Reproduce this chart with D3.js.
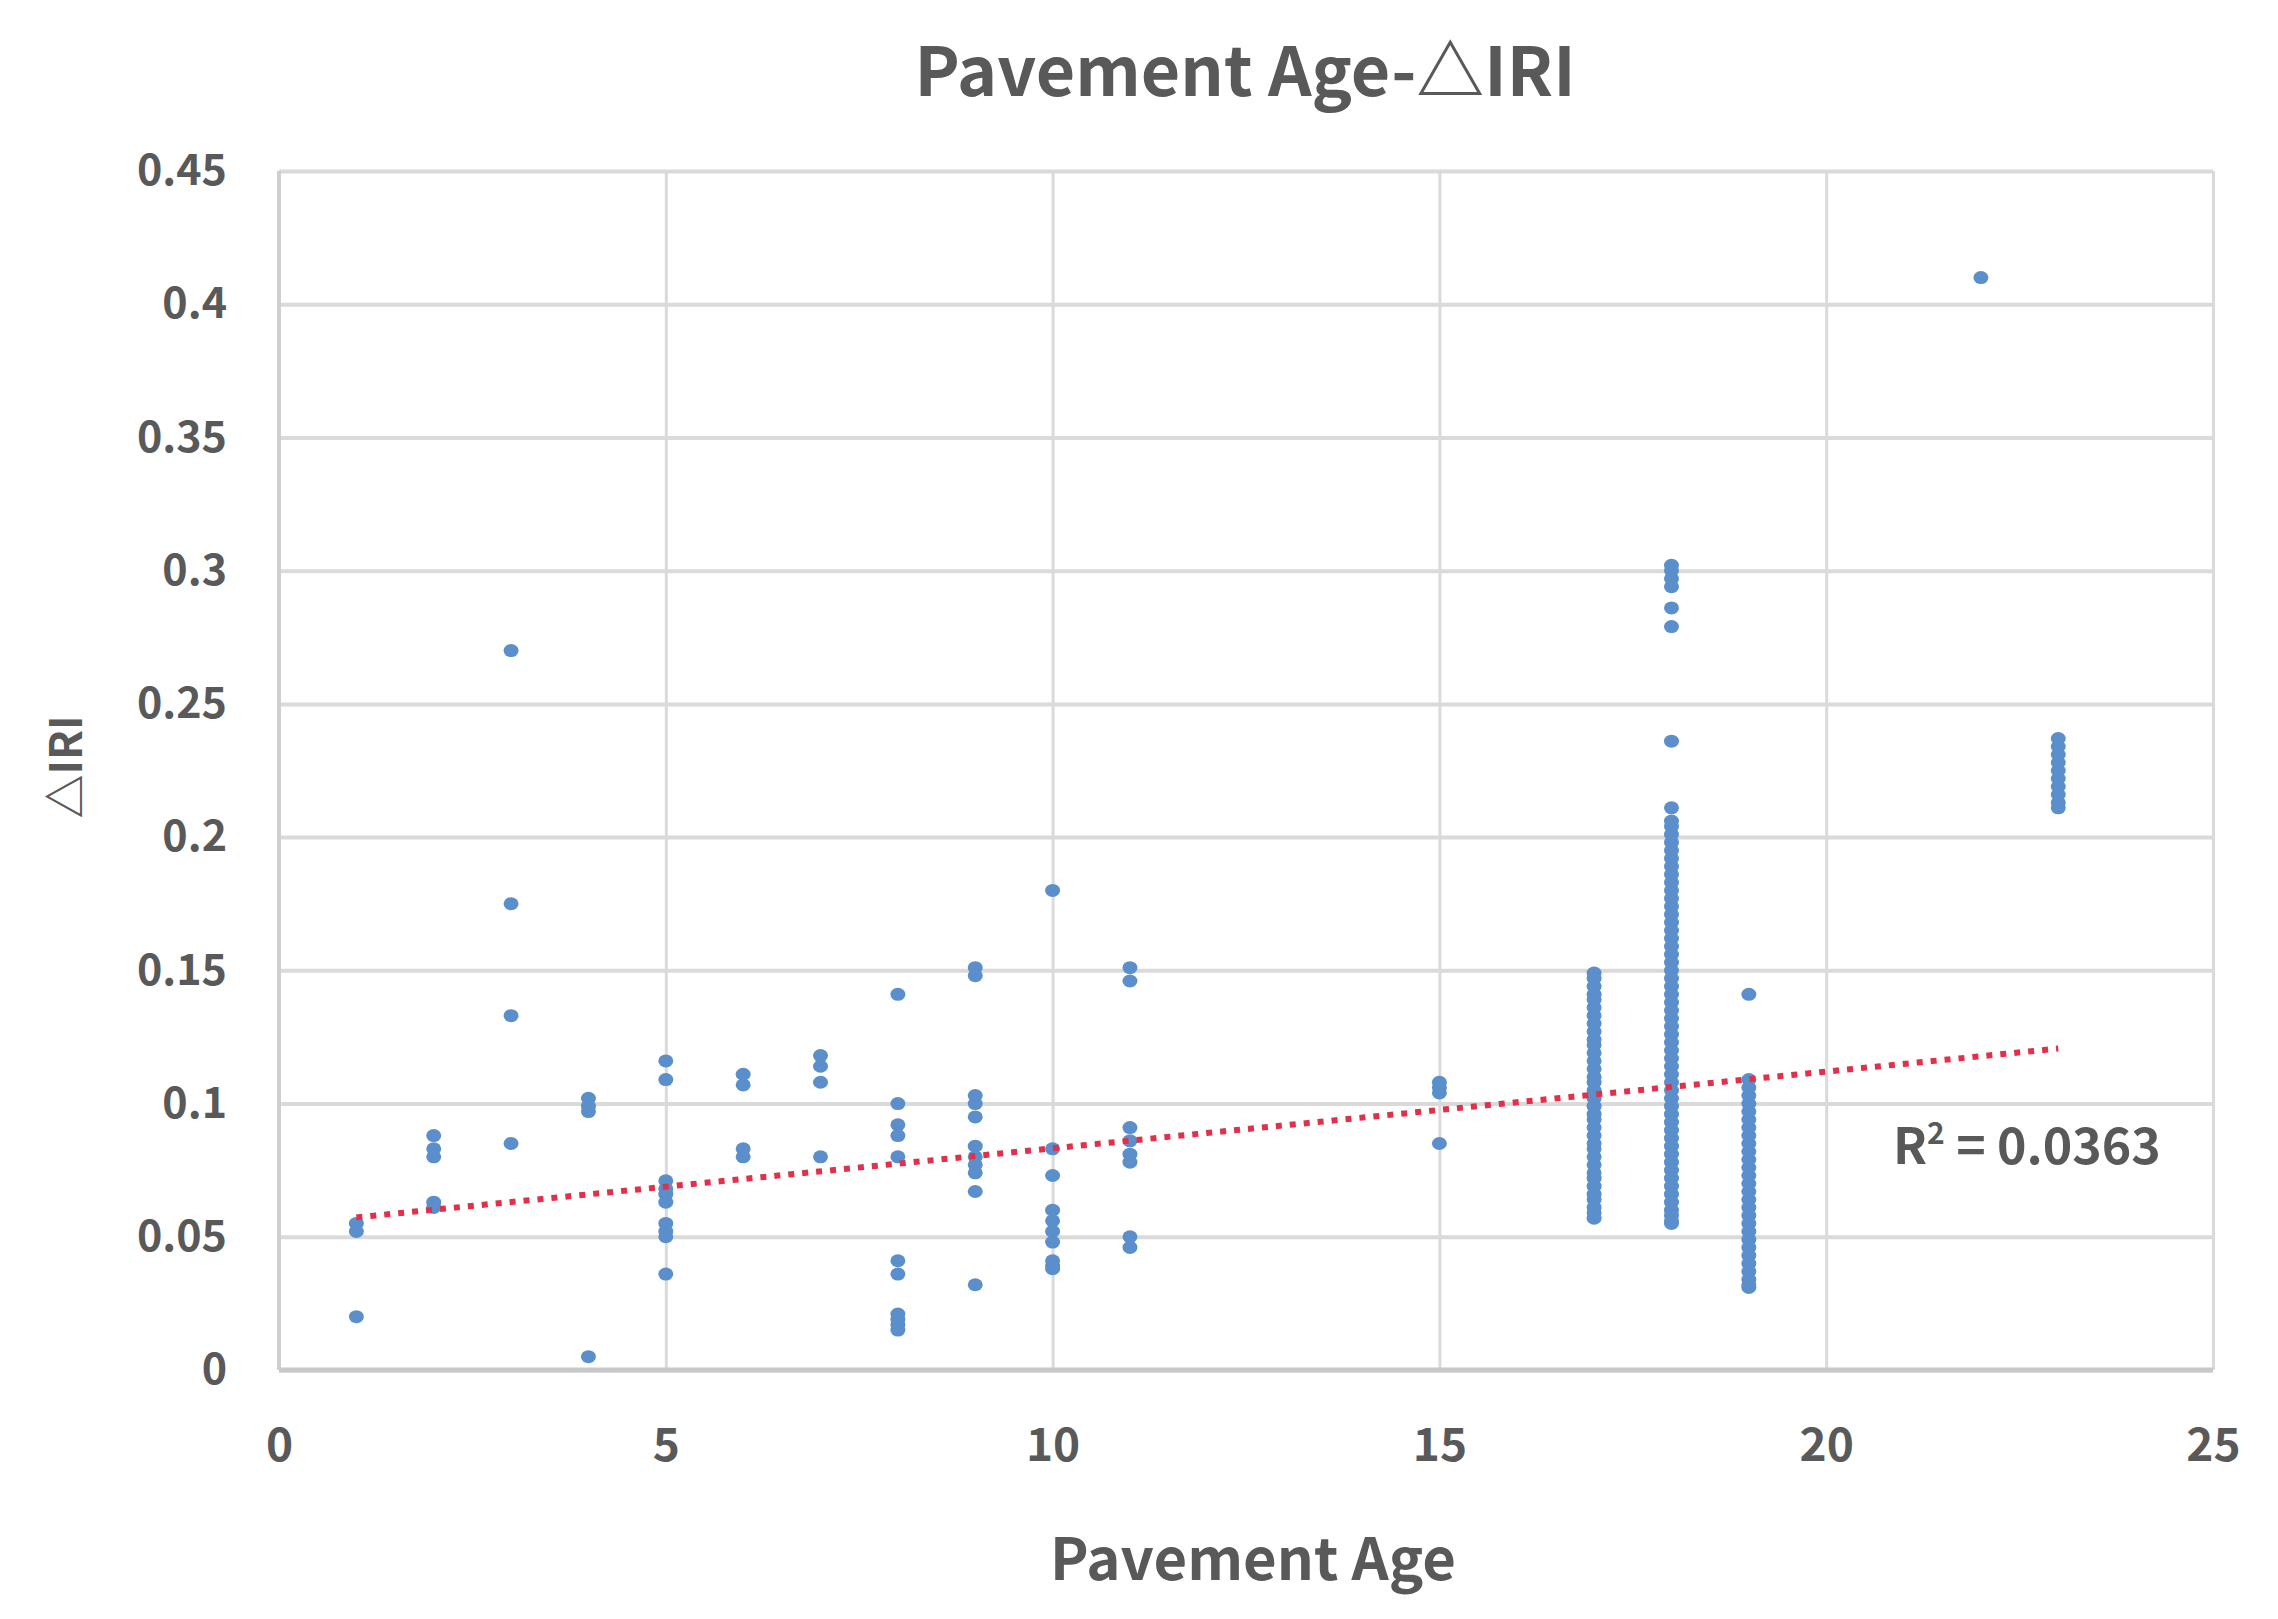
<!DOCTYPE html>
<html>
<head>
<meta charset="utf-8">
<script src="https://cdn.jsdelivr.net/npm/d3@7"></script>
<style>
  html, body { margin: 0; padding: 0; background: #fff; }
  svg { display: block; }
  text { font-family: "Noto Sans CJK KR", "Noto Sans", sans-serif; fill: #595959; }
</style>
</head>
<body>
<svg id="chart" width="2278" height="1619"></svg>
<script>
// pavement age of each column of points
const ages = [1, 2, 3, 4, 5, 6, 7, 8, 9, 10, 11, 15, 17, 18, 19, 22, 23];

// ΔIRI values read per age
const iri01 = [0.055, 0.052, 0.020];
const iri02 = [0.088, 0.083, 0.080, 0.063, 0.061];
const iri03 = [0.270, 0.175, 0.133, 0.085];
const iri04 = [0.102, 0.099, 0.097, 0.005];
const iri05 = [0.116, 0.109, 0.071, 0.068, 0.066, 0.063, 0.055, 0.052, 0.050, 0.036];
const iri06 = [0.111, 0.107, 0.083, 0.080];
const iri07 = [0.118, 0.114, 0.108, 0.080];
const iri08 = [0.141, 0.100, 0.092, 0.088, 0.080, 0.041, 0.036, 0.021, 0.019, 0.017, 0.015];
const iri09 = [0.151, 0.148, 0.103, 0.100, 0.095, 0.084, 0.080, 0.077, 0.074, 0.067, 0.032];
const iri10 = [0.180, 0.083, 0.073, 0.060, 0.056, 0.052, 0.048, 0.041, 0.039, 0.038];
const iri11 = [0.151, 0.146, 0.091, 0.086, 0.081, 0.078, 0.050, 0.046];
const iri15 = [0.108, 0.106, 0.104, 0.085];
const iri17 = [0.149, 0.147, 0.144, 0.141, 0.139, 0.136, 0.133, 0.130, 0.127, 0.124, 0.122, 0.119,
               0.116, 0.113, 0.110, 0.108, 0.105, 0.102, 0.099, 0.096, 0.094, 0.091, 0.088, 0.085,
               0.083, 0.080, 0.077, 0.074, 0.072, 0.069, 0.066, 0.064, 0.061, 0.059, 0.057];
const iri18 = [0.302, 0.300, 0.297, 0.294, 0.286, 0.279, 0.236, 0.211, 0.206, 0.204, 0.201, 0.198,
               0.195, 0.192, 0.189, 0.186, 0.183, 0.180, 0.177, 0.174, 0.171, 0.168, 0.165, 0.162,
               0.159, 0.156, 0.153, 0.150, 0.147, 0.144, 0.141, 0.138, 0.135, 0.132, 0.129, 0.126,
               0.123, 0.120, 0.117, 0.114, 0.111, 0.108, 0.105, 0.102, 0.099, 0.096, 0.093, 0.090,
               0.087, 0.084, 0.081, 0.078, 0.075, 0.072, 0.069, 0.066, 0.063, 0.060, 0.058, 0.056, 0.055];
const iri19 = [0.141, 0.109, 0.106, 0.103, 0.100, 0.097, 0.094, 0.091, 0.088, 0.085, 0.082, 0.079,
               0.076, 0.073, 0.070, 0.067, 0.064, 0.061, 0.058, 0.055, 0.052, 0.049, 0.046, 0.043,
               0.040, 0.037, 0.034, 0.032, 0.031];
const iri22 = [0.410];
const iri23 = [0.237, 0.234, 0.231, 0.228, 0.225, 0.222, 0.219, 0.216, 0.213, 0.211];

const columns = [iri01, iri02, iri03, iri04, iri05, iri06, iri07, iri08, iri09, iri10, iri11,
                 iri15, iri17, iri18, iri19, iri22, iri23];

// linear trend shown in the chart (Excel trendline)
const trendIntercept = 0.0544;
const trendSlope = 0.00288;
const trendRange = [1, 23];
const rSquared = "0.0363";

const xTicks = [0, 5, 10, 15, 20, 25];
const yTicks = [0, 0.05, 0.1, 0.15, 0.2, 0.25, 0.3, 0.35, 0.4, 0.45];

const points = [];
columns.forEach((vals, i) => vals.forEach((v) => points.push({ age: ages[i], iri: v })));

const svg = d3.select("#chart");
const margin = { left: 279, right: 65, top: 171, bottom: 249 };
const width = 2278, height = 1619;
const innerW = width - margin.left - margin.right;
const innerH = height - margin.top - margin.bottom;

const x = d3.scaleLinear().domain([0, 25]).range([0, innerW]);
const y = d3.scaleLinear().domain([0, 0.45]).range([innerH, 0]);

const g = svg.append("g").attr("transform", `translate(${margin.left},${margin.top})`);

// grid
const yGrid = g.append("g")
    .call(d3.axisLeft(y).tickValues(yTicks).tickSize(-innerW).tickFormat(""));
yGrid.select(".domain").remove();
yGrid.selectAll("line").attr("stroke", "#dadada").attr("stroke-width", 4);

const xGrid = g.append("g")
    .attr("transform", `translate(0,${innerH})`)
    .call(d3.axisBottom(x).tickValues(xTicks).tickSize(-innerH).tickFormat(""));
xGrid.select(".domain").remove();
xGrid.selectAll("line").attr("stroke", "#dadada").attr("stroke-width", 3);

// axis lines
g.append("line").attr("x1", 0).attr("x2", innerW).attr("y1", innerH).attr("y2", innerH)
    .attr("stroke", "#c8c8c8").attr("stroke-width", 5);
g.append("line").attr("x1", 0).attr("x2", 0).attr("y1", 0).attr("y2", innerH)
    .attr("stroke", "#cfcfcf").attr("stroke-width", 4);

// tick labels
const yAxis = g.append("g")
    .call(d3.axisLeft(y).tickValues(yTicks).tickSize(0).tickPadding(52).tickFormat((d) => String(d)));
yAxis.select(".domain").remove();
yAxis.selectAll("text")
    .style("font-size", "43px").style("font-weight", "bold").attr("fill", "#595959");

const xAxis = g.append("g")
    .attr("transform", `translate(0,${innerH})`)
    .call(d3.axisBottom(x).tickValues(xTicks).tickSize(0).tickPadding(58));
xAxis.select(".domain").remove();
xAxis.selectAll("text")
    .style("font-size", "46px").style("font-weight", "bold").attr("fill", "#595959");

// points
g.append("g")
    .selectAll("ellipse")
    .data(points)
    .enter()
    .append("ellipse")
    .attr("cx", (d) => x(d.age))
    .attr("cy", (d) => y(d.iri))
    .attr("rx", 7.5)
    .attr("ry", 6.5)
    .attr("fill", "#5b8fcb");

// trendline
const trend = trendRange.map((a) => ({ age: a, iri: trendIntercept + trendSlope * a }));
g.append("path")
    .datum(trend)
    .attr("fill", "none")
    .attr("stroke", "#e0304a")
    .attr("stroke-width", 6)
    .attr("stroke-dasharray", "6,8")
    .attr("d", d3.line().x((d) => x(d.age)).y((d) => y(d.iri)));

// R² label
const r2 = svg.append("text")
    .attr("x", 1893)
    .attr("y", 1164)
    .style("font-size", "50px")
    .style("font-weight", "bold");
r2.append("tspan").text("R");
r2.append("tspan").attr("dy", -20).style("font-size", "30px").text("2");
r2.append("tspan").attr("dy", 20).text(" = " + rSquared);

// titles
svg.append("text")
    .attr("x", 1245)
    .attr("y", 96)
    .attr("text-anchor", "middle")
    .style("font-size", "68px")
    .style("font-weight", "bold")
    .text("Pavement Age-△IRI");

svg.append("text")
    .attr("x", 1253)
    .attr("y", 1580)
    .attr("text-anchor", "middle")
    .style("font-size", "58px")
    .style("font-weight", "bold")
    .text("Pavement Age");

svg.append("text")
    .attr("transform", "translate(82,767) rotate(-90)")
    .attr("text-anchor", "middle")
    .style("font-size", "44px")
    .style("font-weight", "bold")
    .text("△IRI");
</script>
</body>
</html>
